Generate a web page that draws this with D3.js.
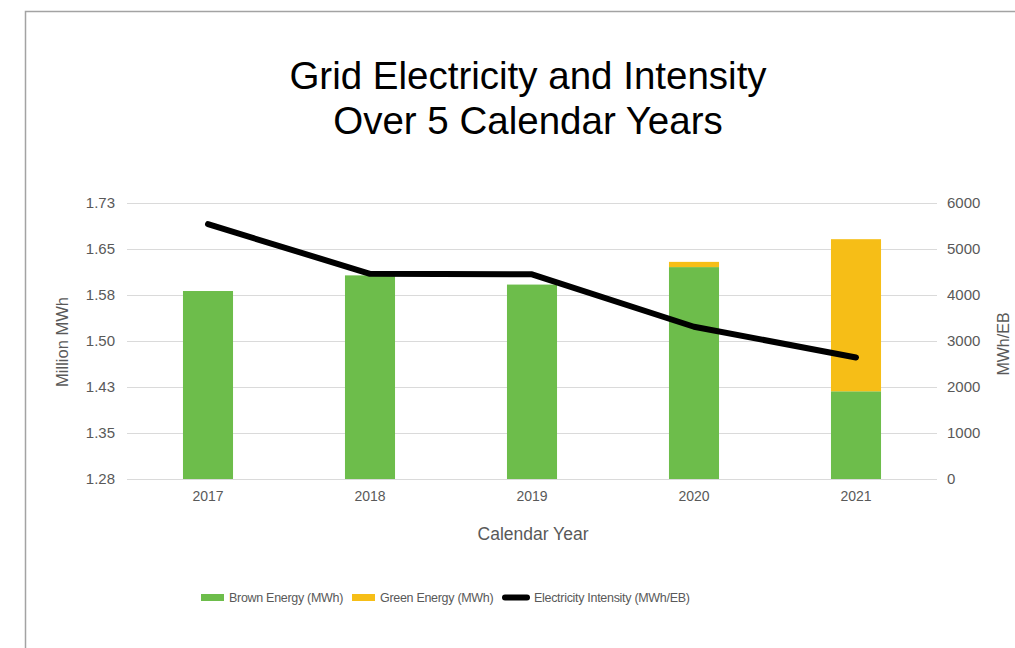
<!DOCTYPE html>
<html>
<head>
<meta charset="utf-8">
<style>
  body { margin: 0; background: #fff; }
  svg { display: block; font-family: "Liberation Sans", Arial, Helvetica, sans-serif; }
</style>
</head>
<body>
<svg id="chart" width="1015" height="648"></svg>
<script src="https://d3js.org/d3.v7.min.js"></script>
<script>
  // data
  var years = ["2017", "2018", "2019", "2020", "2021"]
  var brownEnergy = [1.5815, 1.607, 1.592, 1.6205, 1.418]   // million MWh
  var greenEnergy = [0, 0, 0, 0.0085, 0.248]                   // million MWh (stacked)
  var intensity = [5540, 4460, 4450, 3310, 2640]               // MWh/EB
  var leftTicks = [1.275, 1.35, 1.425, 1.5, 1.575, 1.65, 1.725]
  var leftTickLabels = ["1.28", "1.35", "1.43", "1.50", "1.58", "1.65", "1.73"]
  var rightTicks = [0, 1000, 2000, 3000, 4000, 5000, 6000]

  var svg = d3.select("#chart")
  var plot = {left: 127, right: 937, top: 203, bottom: 479}

  // frame
  svg.append("path")
    .attr("d", "M25.5,648 V11.5 H1015")
    .attr("fill", "none")
    .attr("stroke", "#a3a3a3")
    .attr("stroke-width", 1.5)

  // scales
  var x = d3.scaleBand().domain(years).range([plot.left, plot.right]).paddingInner(0.691).paddingOuter(0.3455)
  var yL = d3.scaleLinear().domain([1.275, 1.725]).range([plot.bottom, plot.top])
  var yR = d3.scaleLinear().domain([0, 6000]).range([plot.bottom, plot.top])

  // gridlines
  svg.append("g").selectAll("line")
    .data(leftTicks)
    .enter().append("line")
    .attr("x1", plot.left).attr("x2", plot.right)
    .attr("y1", (d) => Math.round(yL(d)) + 0.5)
    .attr("y2", (d) => Math.round(yL(d)) + 0.5)
    .attr("stroke", "#dadada")
    .attr("stroke-width", 1)

  // left axis
  var gL = svg.append("g").attr("transform", "translate(" + plot.left + ",0)")
    .call(d3.axisLeft(yL).tickValues(leftTicks)
      .tickFormat((d, i) => leftTickLabels[i]).tickSize(0).tickPadding(12))
  gL.select(".domain").remove()
  gL.selectAll("text").attr("fill", "#595959").style("font-size", "15px")

  // right axis
  var gR = svg.append("g").attr("transform", "translate(" + plot.right + ",0)")
    .call(d3.axisRight(yR).tickValues(rightTicks).tickFormat(d3.format("d")).tickSize(0).tickPadding(10))
  gR.select(".domain").remove()
  gR.selectAll("text").attr("fill", "#595959").style("font-size", "15px")

  // bars: brown (green colour) stacked with green energy (yellow)
  var bars = svg.append("g")
  bars.selectAll(".brown")
    .data(years)
    .enter().append("rect")
    .attr("class", "brown")
    .attr("x", (d) => x(d))
    .attr("width", x.bandwidth())
    .attr("y", (d, i) => yL(brownEnergy[i]))
    .attr("height", (d, i) => yL(1.275) - yL(brownEnergy[i]))
    .attr("fill", "#6dbd4b")
  bars.selectAll(".green")
    .data(years)
    .enter().append("rect")
    .attr("class", "green")
    .attr("x", (d) => x(d))
    .attr("width", x.bandwidth())
    .attr("y", (d, i) => yL(brownEnergy[i] + greenEnergy[i]))
    .attr("height", (d, i) => yL(brownEnergy[i]) - yL(brownEnergy[i] + greenEnergy[i]))
    .attr("fill", "#f6be17")

  // x axis
  var gX = svg.append("g").attr("transform", "translate(0," + plot.bottom + ")")
    .call(d3.axisBottom(x).tickSize(0).tickPadding(12))
  gX.select(".domain").remove()
  gX.selectAll("text").attr("fill", "#595959").style("font-size", "14px")

  // intensity line
  var line = d3.line()
    .x((d, i) => x(years[i]) + x.bandwidth() / 2)
    .y((d) => yR(d))
  svg.append("path")
    .datum(intensity)
    .attr("d", line)
    .attr("fill", "none")
    .attr("stroke", "#000")
    .attr("stroke-width", 6)
    .attr("stroke-linecap", "round")
    .attr("stroke-linejoin", "round")

  // title
  var title = svg.append("text")
    .attr("text-anchor", "middle")
    .attr("fill", "#000")
    .style("font-size", "38.5px")
  title.append("tspan").attr("x", 528).attr("y", 89).text("Grid Electricity and Intensity")
  title.append("tspan").attr("x", 528).attr("y", 134).text("Over 5 Calendar Years")

  // axis titles
  svg.append("text")
    .attr("transform", "translate(68,342) rotate(-90)")
    .attr("text-anchor", "middle")
    .attr("fill", "#595959")
    .style("font-size", "16.5px")
    .text("Million MWh")
  svg.append("text")
    .attr("transform", "translate(1009,344) rotate(-90)")
    .attr("text-anchor", "middle")
    .attr("fill", "#595959")
    .style("font-size", "16px")
    .text("MWh/EB")
  svg.append("text")
    .attr("x", 533).attr("y", 540)
    .attr("text-anchor", "middle")
    .attr("fill", "#595959")
    .style("font-size", "17.5px")
    .text("Calendar Year")

  // legend
  var legendItems = [
    {label: "Brown Energy (MWh)", color: "#6dbd4b", x: 201, type: "rect"},
    {label: "Green Energy (MWh)", color: "#f6be17", x: 352, type: "rect"},
    {label: "Electricity Intensity (MWh/EB)", color: "#000", x: 503, type: "line"}
  ]
  var legend = svg.append("g")
  legendItems.forEach((d) => {
    if (d.type === "rect") {
      legend.append("rect").attr("x", d.x).attr("y", 594).attr("width", 23).attr("height", 7).attr("fill", d.color)
    } else {
      legend.append("line").attr("x1", d.x + 2).attr("x2", d.x + 24).attr("y1", 597.5).attr("y2", 597.5)
        .attr("stroke", d.color).attr("stroke-width", 6).attr("stroke-linecap", "round")
    }
    legend.append("text")
      .attr("x", d.x + (d.type === "rect" ? 28 : 31)).attr("y", 602)
      .attr("fill", "#595959")
      .style("font-size", "12.5px")
      .style("letter-spacing", "-0.3px")
      .text(d.label)
  })
</script>
</body>
</html>
